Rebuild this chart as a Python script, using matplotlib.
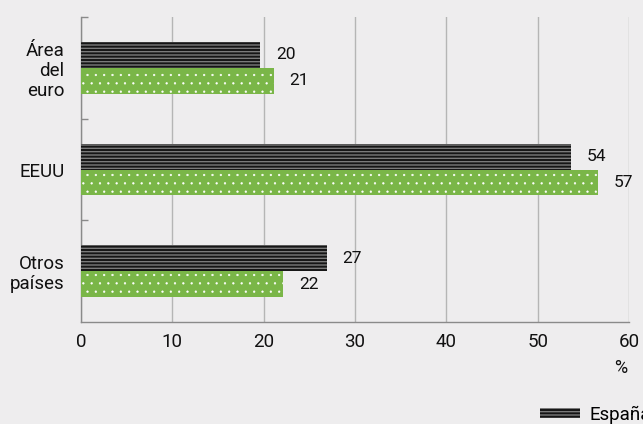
import matplotlib
matplotlib.use("Agg")
import matplotlib.pyplot as plt
import numpy as np
from matplotlib.patches import Patch

plt.rcParams['font.family'] = ['Roboto', 'DejaVu Sans']

categories = ["Área\ndel\neuro", "EEUU", "Otros\npaíses"]
series_names = ["España", "Área del euro"]
espana = [19.6, 53.6, 26.9]
area_euro = [21.1, 56.6, 22.1]
x_ticks = [0, 10, 20, 30, 40, 50, 60]

bg = "#EEEDEE"
green = "#7AB648"
dark = "#151515"
stripe = "#7a7a7a"
grid_c = "#b5b5b5"
txt = "#111111"

fig = plt.figure(figsize=(6.43, 4.24), dpi=100, facecolor=bg)
ax = fig.add_axes([81/643, 1-322/424, 548/643, 305/424], facecolor=bg)

y = np.arange(len(categories))
h = 0.255

b1 = ax.barh(y - h/2, espana, height=h, color=dark, edgecolor=stripe,
             hatch='-----', linewidth=0, zorder=3)
b2 = ax.barh(y + h/2, area_euro, height=h, color=green, edgecolor='white',
             hatch='..', linewidth=0, zorder=3)
for r in b2:
    if hasattr(r, "set_hatch_linewidth"):
        r.set_hatch_linewidth(0.4)

for bars, vals in ((b1, espana), (b2, area_euro)):
    for rect, v in zip(bars, vals):
        ax.annotate(f"{v:.0f}", (rect.get_width(), rect.get_y() + rect.get_height()/2),
                    xytext=(11.5, 0), textcoords='offset points',
                    ha='left', va='center', fontsize=12.5, color=txt)

ax.set_xlim(0, 60)
ax.set_ylim(2.5, -0.5)
ax.set_xticks(x_ticks)
ax.set_xticklabels([str(t) for t in x_ticks], fontsize=13.5, color=txt)
ax.tick_params(axis='x', length=0, pad=8)

ax.set_yticks(y)
ax.set_yticklabels(categories, fontsize=13.5, color=txt, linespacing=1.15)
ax.tick_params(axis='y', length=0, pad=12)
ax.set_yticks([-0.5, 0.5, 1.5], minor=True)
ax.tick_params(axis='y', which='minor', direction='in', length=5, color='#8a8a8a', width=1)

ax.grid(axis='x', color=grid_c, linewidth=1, zorder=0)
for s in ('top', 'right'):
    ax.spines[s].set_visible(False)
for s in ('left', 'bottom'):
    ax.spines[s].set_color('#8a8a8a')
    ax.spines[s].set_linewidth(1)

fig.text(621/643, 1-368/424, "%", ha='center', va='center', fontsize=13, color=txt)

handles = [Patch(facecolor=dark, edgecolor=stripe, hatch='-----', linewidth=0),
           Patch(facecolor=green, edgecolor='white', hatch='..', linewidth=0)]
fig.legend(handles, series_names, ncol=2, loc='center left',
           bbox_to_anchor=(527/643, 1-415/424), frameon=False, fontsize=13.5,
           handlelength=2.1, handleheight=0.45, handletextpad=0.55, columnspacing=1.5,
           borderpad=0.2)

fig.savefig("out.png", dpi=100, facecolor=bg)
